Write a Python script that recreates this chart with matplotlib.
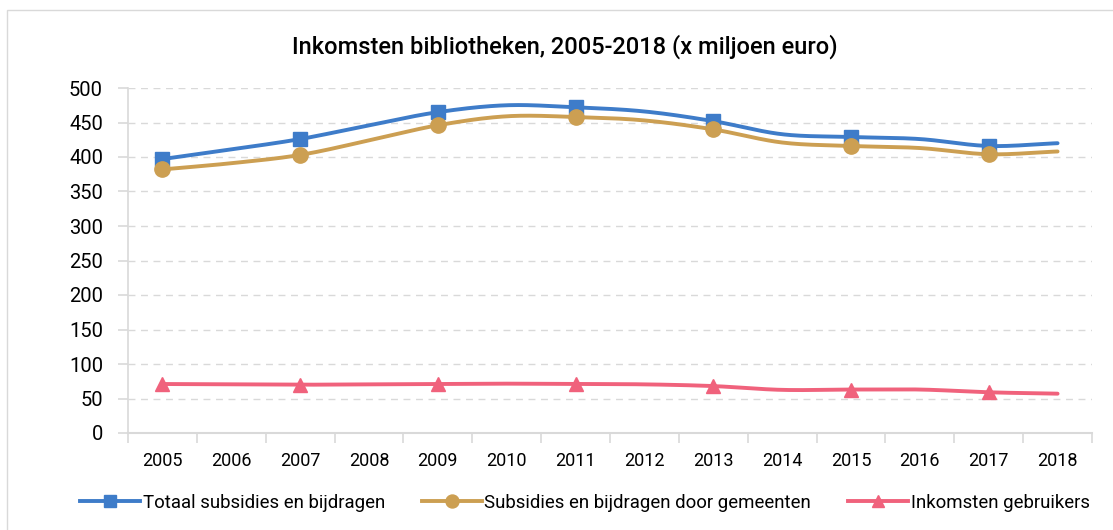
import numpy as np
import matplotlib
matplotlib.use("Agg")
import matplotlib.pyplot as plt
from matplotlib.patches import Rectangle

years = ["2005", "2006", "2007", "2008", "2009", "2010", "2011",
         "2012", "2013", "2014", "2015", "2016", "2017", "2018"]
totaal = [397, 411, 426, 446, 465, 475, 472, 466, 452, 433, 429, 426, 416, 420]
gemeenten = [382, 391, 403, 424, 446, 459, 458, 453, 440, 421, 416, 413, 404, 408]
gebruikers = [71, 70.5, 70, 70.5, 71, 71.5, 71, 70.5, 68, 62.5, 63, 63, 59, 57]
marker_every = [0, 2, 4, 6, 8, 10, 12]

title = "Inkomsten bibliotheken, 2005-2018 (x miljoen euro)"
labels = ["Totaal subsidies en bijdragen",
          "Subsidies en bijdragen door gemeenten",
          "Inkomsten gebruikers"]
colors = ["#3E7CC9", "#CC9F52", "#F0627C"]
markers = ["s", "o", "^"]
msizes = [10, 11, 10]

plt.rcParams['font.family'] = ['Roboto', 'DejaVu Sans']


def smooth(xs, ys, n=30):
    # Catmull-Rom style smoothing (like Excel smoothed line)
    xs = np.asarray(xs, float)
    ys = np.asarray(ys, float)
    px = np.concatenate([[2 * xs[0] - xs[1]], xs, [2 * xs[-1] - xs[-2]]])
    py = np.concatenate([[2 * ys[0] - ys[1]], ys, [2 * ys[-1] - ys[-2]]])
    ox, oy = [], []
    t = np.linspace(0, 1, n, endpoint=False)
    for i in range(1, len(px) - 2):
        p0x, p1x, p2x, p3x = px[i - 1:i + 3]
        p0y, p1y, p2y, p3y = py[i - 1:i + 3]
        c1x = p1x + (p2x - p0x) / 6
        c1y = p1y + (p2y - p0y) / 6
        c2x = p2x - (p3x - p1x) / 6
        c2y = p2y - (p3y - p1y) / 6
        bx = (1 - t) ** 3 * p1x + 3 * (1 - t) ** 2 * t * c1x + 3 * (1 - t) * t ** 2 * c2x + t ** 3 * p2x
        by = (1 - t) ** 3 * p1y + 3 * (1 - t) ** 2 * t * c1y + 3 * (1 - t) * t ** 2 * c2y + t ** 3 * p2y
        ox.extend(bx)
        oy.extend(by)
    ox.append(xs[-1])
    oy.append(ys[-1])
    return np.array(ox), np.array(oy)


W, H = 1113, 530
fig = plt.figure(figsize=(W / 100, H / 100), dpi=100)
fig.patch.set_facecolor("white")
fig.patches.append(Rectangle((7 / W, -0.1), 1.2, 1 - 10 / H + 0.1,
                             transform=fig.transFigure, fill=False,
                             edgecolor="#D9D9D9", lw=1.0))

ax = fig.add_axes([128 / W, 1 - 433 / H, (1092 - 128) / W, (433 - 88) / H])
x = np.arange(len(years))
series = [totaal, gemeenten, gebruikers]
handles = []
for ys, c, m, ms, lab in zip(series, colors, markers, msizes, labels):
    sx, sy = smooth(x, ys)
    ax.plot(sx, sy, color=c, lw=2.8, solid_capstyle="round", zorder=3)
    mx = [x[i] for i in marker_every]
    my = [ys[i] for i in marker_every]
    ax.plot(mx, my, linestyle="none", marker=m, ms=ms, color=c, zorder=4)
    h, = ax.plot([], [], color=c, lw=2.8, marker=m, ms=ms * 0.85, label=lab)
    handles.append(h)

ax.set_xlim(-0.5, len(years) - 0.5)
ax.set_ylim(0, 500)
ax.set_yticks(np.arange(0, 501, 50))
ax.set_xticks(x)
ax.set_xticklabels(years)
ax.set_xticks(np.arange(-0.5, len(years), 1), minor=True)
ax.tick_params(axis="x", which="major", length=0, labelsize=13, pad=14, colors="#000000")
ax.tick_params(axis="x", which="minor", length=7, width=1.2, color="#D9D9D9", direction="out")
ax.tick_params(axis="y", which="major", length=7, width=1.2, color="#D9D9D9", labelsize=14.5, pad=11)
for lab_ in ax.get_yticklabels() + ax.get_xticklabels():
    lab_.set_color("black")

ax.yaxis.grid(True, color="#D9D9D9", lw=1.0, linestyle=(0, (5, 4)))
ax.set_axisbelow(True)
for s in ["top", "right"]:
    ax.spines[s].set_visible(False)
ax.spines["left"].set_color("#D9D9D9")
ax.spines["left"].set_linewidth(1.2)
ax.spines["bottom"].set_color("#D9D9D9")
ax.spines["bottom"].set_linewidth(1.5)

fig.text(565 / W, 1 - 47 / H, title, ha="center", va="center", fontsize=17, fontweight="medium")

fig.legend(handles=handles, loc="center", bbox_to_anchor=(585 / W, 1 - 503 / H),
           ncol=3, frameon=False, fontsize=13.4, handlelength=3.2, handletextpad=0.15,
           columnspacing=2.0)

fig.savefig("out.png", dpi=100)
